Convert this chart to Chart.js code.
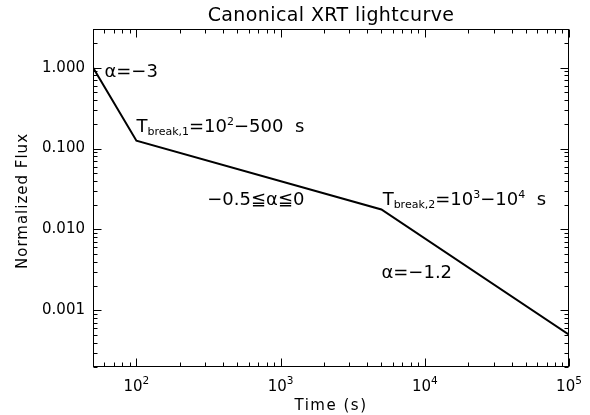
<!DOCTYPE html>
<html>
<head>
<meta charset="utf-8">
<script src="https://cdn.jsdelivr.net/npm/chart.js@4.4.1/dist/chart.umd.min.js"></script>
<style>
  html, body { margin: 0; padding: 0; background: #ffffff; }
  #wrap { width: 590px; height: 415px; }
</style>
</head>
<body>
<div id="wrap"><canvas id="c" width="590" height="415"></canvas></div>
<script>
// ---- data ----
const times = [50, 100, 5000, 100000];
const flux = [1.0, 0.125, 0.0177, 0.0005];

const xTickValues = [100, 1000, 10000, 100000];
const xTickExponents = ['2', '3', '4', '5'];
const yTickValues = [1, 0.1, 0.01, 0.001];
const yTickLabels = ['1.000', '0.100', '0.010', '0.001'];

const chartTitle = 'Canonical XRT lightcurve';
const xTitle = 'Time (s)';
const yTitle = 'Normalized Flux';

// annotation anchors in data units (time, flux); segments: [text, kind]
const annotationTimes = [60, 100, 310, 5100, 5000];
const annotationFlux = [0.77, 0.16, 0.02, 0.02, 0.0025];
const annotationTexts = [
  [['α=−3', 'n']],
  [['T', 'n'], ['break,1', 'sub'], ['=10', 'n'], ['2', 'sup'], ['−500  s', 'n']],
  [['−0.5≦α≦0', 'n']],
  [['T', 'n'], ['break,2', 'sub'], ['=10', 'n'], ['3', 'sup'], ['−10', 'n'], ['4', 'sup'], ['  s', 'n']],
  [['α=−1.2', 'n']]
];

const FAMILY = '"DejaVu Sans", "Liberation Sans", sans-serif';

function drawRich(ctx, x, y, segs, mainSize, smallSize) {
  let cx = x;
  for (const [t, kind] of segs) {
    if (kind === 'n') {
      ctx.font = mainSize + 'px ' + FAMILY;
      ctx.fillText(t, cx, y);
      cx += ctx.measureText(t).width;
    } else {
      ctx.font = smallSize + 'px ' + FAMILY;
      const dy = kind === 'sub' ? 3 : -7;
      ctx.fillText(t, cx, y + dy);
      cx += ctx.measureText(t).width;
    }
  }
}
function richWidth(ctx, segs, mainSize, smallSize) {
  let w = 0;
  for (const [t, kind] of segs) {
    ctx.font = (kind === 'n' ? mainSize : smallSize) + 'px ' + FAMILY;
    w += ctx.measureText(t).width;
  }
  return w;
}

const idlPlugin = {
  id: 'idl',
  afterDraw(chart) {
    const ctx = chart.ctx;
    const a = chart.chartArea;
    const xs = chart.scales.x, ys = chart.scales.y;
    ctx.save();
    ctx.strokeStyle = '#000';
    ctx.fillStyle = '#000';
    ctx.lineWidth = 1;
    const L = Math.round(a.left) + 0.5, R = Math.round(a.right) - 0.5;
    const T = Math.round(a.top) + 0.5, B = Math.round(a.bottom) - 0.5;
    ctx.strokeRect(L, T, R - L, B - T);

    // tick marks (inside, all four sides)
    ctx.beginPath();
    for (let e = 1; e <= 5; e++) {
      for (let k = 1; k <= 9; k++) {
        const v = k * Math.pow(10, e);
        if (v < xs.min * 0.999 || v > xs.max * 1.001) continue;
        const px = Math.round(xs.getPixelForValue(v)) + 0.5;
        const len = k === 1 ? 8 : 4;
        ctx.moveTo(px, B); ctx.lineTo(px, B - len);
        ctx.moveTo(px, T); ctx.lineTo(px, T + len);
      }
    }
    for (let e = -4; e <= 0; e++) {
      for (let k = 1; k <= 9; k++) {
        const v = k * Math.pow(10, e);
        if (v < ys.min * 0.999 || v > ys.max * 1.001) continue;
        const py = Math.round(ys.getPixelForValue(v)) + 0.5;
        const len = k === 1 ? 8 : 4;
        ctx.moveTo(L, py); ctx.lineTo(L + len, py);
        ctx.moveTo(R, py); ctx.lineTo(R - len, py);
      }
    }
    ctx.stroke();

    // x tick labels 10^n
    ctx.textBaseline = 'alphabetic';
    ctx.textAlign = 'left';
    xTickValues.forEach((v, i) => {
      const px = xs.getPixelForValue(v);
      const segs = [['10', 'n'], [xTickExponents[i], 'sup']];
      const w = richWidth(ctx, segs, 15, 10.5);
      drawRich(ctx, px - w / 2, 391, segs, 15, 10.5);
    });

    // x title
    ctx.font = '15px ' + FAMILY;
    ctx.letterSpacing = '1.5px';
    ctx.textAlign = 'center';
    ctx.fillText(xTitle, (a.left + a.right) / 2, 410);

    // y title
    ctx.save();
    ctx.translate(27, (a.top + a.bottom) / 2 + 3);
    ctx.rotate(-Math.PI / 2);
    ctx.letterSpacing = '1px';
    ctx.fillText(yTitle, 0, 0);
    ctx.restore();

    // chart title
    ctx.font = '19px ' + FAMILY;
    ctx.letterSpacing = '0.4px';
    ctx.textAlign = 'center';
    ctx.fillText(chartTitle, (a.left + a.right) / 2, 21);
    ctx.letterSpacing = '0px';

    // annotations
    ctx.textAlign = 'left';
    annotationTexts.forEach((segs, i) => {
      const px = xs.getPixelForValue(annotationTimes[i]);
      const py = ys.getPixelForValue(annotationFlux[i]);
      drawRich(ctx, px, py, segs, 18, 11);
    });
    ctx.restore();
  }
};

new Chart(document.getElementById('c'), {
  type: 'line',
  data: {
    datasets: [{
      data: times.map((t, i) => ({ x: t, y: flux[i] })),
      borderColor: '#000',
      borderWidth: 2,
      pointRadius: 0,
      fill: false,
      tension: 0
    }]
  },
  options: {
    responsive: false,
    animation: false,
    devicePixelRatio: 1,
    layout: { padding: { top: 29, right: 21, left: 0, bottom: 0 } },
    plugins: { legend: { display: false }, tooltip: { enabled: false }, title: { display: false } },
    scales: {
      x: {
        type: 'logarithmic', min: 50, max: 100000,
        grid: { display: false, drawTicks: false },
        border: { display: false },
        ticks: { display: false },
        afterBuildTicks(s) { s.ticks = xTickValues.map(v => ({ value: v })); },
        afterFit(s) { s.height = 48; }
      },
      y: {
        type: 'logarithmic', min: 0.0002, max: 3,
        grid: { display: false, drawTicks: false },
        border: { display: false },
        afterBuildTicks(s) { s.ticks = yTickValues.map(v => ({ value: v })); },
        ticks: {
          autoSkip: false,
          padding: 8,
          color: '#000',
          font: { family: FAMILY, size: 15 },
          callback(v) { const i = yTickValues.indexOf(v); return i >= 0 ? yTickLabels[i] : null; }
        },
        afterFit(s) { s.width = 93; }
      }
    }
  },
  plugins: [idlPlugin]
});
</script>
</body>
</html>
